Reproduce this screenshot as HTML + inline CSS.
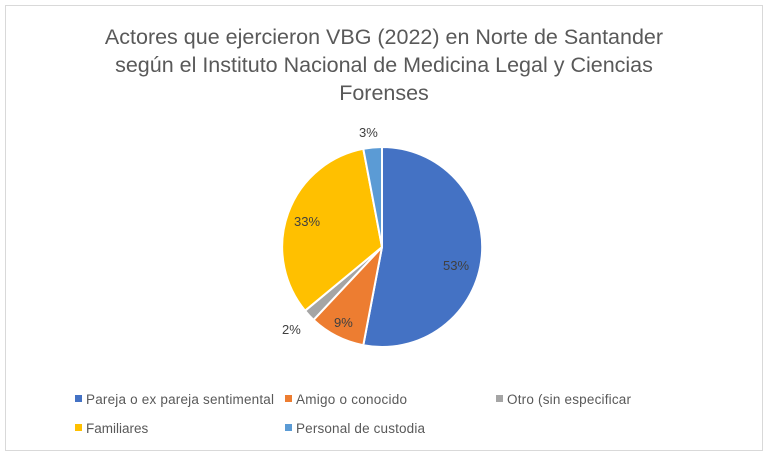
<!DOCTYPE html>
<html><head><meta charset="utf-8"><style>
body{margin:0;background:#fff;width:768px;height:456px;overflow:hidden;font-family:"Liberation Sans","DejaVu Sans",sans-serif}
</style></head><body>
<svg width="768" height="456" xmlns="http://www.w3.org/2000/svg">
<rect x="5.5" y="5.5" width="757" height="445" fill="#fff" stroke="#d9d9d9"/>
<g font-size="21.5" fill="#595959" text-anchor="middle">
<text x="384" y="44">Actores que ejercieron VBG (2022) en Norte de Santander</text>
<text x="384" y="72">según el Instituto Nacional de Medicina Legal y Ciencias</text>
<text x="384" y="100">Forenses</text>
</g>
<g stroke="#fff" stroke-width="2" stroke-linejoin="round">
<path d="M382,247 L382,147 A100,100 0 1 1 363.3,345.2 Z" fill="#4472c4"/>
<path d="M382,247 L363.3,345.2 A100,100 0 0 1 313.5,319.9 Z" fill="#ed7d31"/>
<path d="M382,247 L313.5,319.9 A100,100 0 0 1 305.1,310.7 Z" fill="#a5a5a5"/>
<path d="M382,247 L305.1,310.7 A100,100 0 0 1 363.3,148.8 Z" fill="#ffc000"/>
<path d="M382,247 L363.3,148.8 A100,100 0 0 1 382,147 Z" fill="#5b9bd5"/>
</g>
<g font-size="13" fill="#404040">
<text x="443" y="270">53%</text>
<text x="334" y="327">9%</text>
<text x="294" y="226">33%</text>
<text x="282" y="334">2%</text>
<text x="359" y="137">3%</text>
</g>
<g font-size="13.5" fill="#595959">
<rect x="75" y="395" width="7" height="7" fill="#4472c4"/><text x="86" y="404" textLength="188">Pareja o ex pareja sentimental</text>
<rect x="285" y="395" width="7" height="7" fill="#ed7d31"/><text x="296" y="404" textLength="111">Amigo o conocido</text>
<rect x="496" y="395" width="7" height="7" fill="#a5a5a5"/><text x="507" y="404" textLength="124">Otro (sin especificar</text>
<rect x="75" y="424" width="7" height="7" fill="#ffc000"/><text x="86" y="433">Familiares</text>
<rect x="285" y="424" width="7" height="7" fill="#5b9bd5"/><text x="296" y="433" textLength="129">Personal de custodia</text>
</g>
</svg>
</body></html>
